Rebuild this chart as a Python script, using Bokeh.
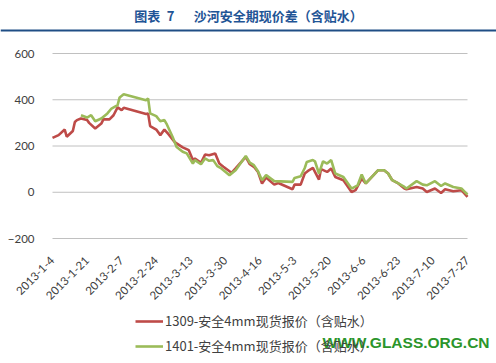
import pandas as pd
from bokeh.plotting import figure
from bokeh.models import (Range1d, FixedTicker, Legend, LegendItem, Label, Span)
from bokeh.embed import file_html
from bokeh.resources import INLINE
import math

title_text = "图表\u20027\u3000\u2002沙河安全期现价差（含贴水）"
series_names = ["1309-安全4mm现货报价（含贴水）", "1401-安全4mm现货报价（含贴水）"]
watermark = "WWW.GLASS.ORG.CN"

start_date = "2013-01-04"
tick_labels = ["2013-1-4", "2013-1-21", "2013-2-7", "2013-2-24", "2013-3-13",
               "2013-3-30", "2013-4-16", "2013-5-3", "2013-5-20", "2013-6-6",
               "2013-6-23", "2013-7-10", "2013-7-27"]
y_ticks = [-200, 0, 200, 400, 600]

red_dates = ["2013-01-04", "2013-01-07", "2013-01-10", "2013-01-11", "2013-01-14",
             "2013-01-15", "2013-01-16", "2013-01-18", "2013-01-21", "2013-01-22",
             "2013-01-25", "2013-01-28", "2013-01-29", "2013-02-01", "2013-02-03",
             "2013-02-05", "2013-02-07", "2013-02-08", "2013-02-19", "2013-02-20",
             "2013-02-21", "2013-02-24", "2013-02-26", "2013-02-28", "2013-03-02",
             "2013-03-05", "2013-03-06", "2013-03-09", "2013-03-12", "2013-03-14",
             "2013-03-15", "2013-03-18", "2013-03-20", "2013-03-22", "2013-03-25",
             "2013-03-27", "2013-03-29", "2013-04-02", "2013-04-04", "2013-04-09",
             "2013-04-11", "2013-04-13", "2013-04-15", "2013-04-17", "2013-04-19",
             "2013-04-23", "2013-04-25", "2013-05-02", "2013-05-03", "2013-05-06",
             "2013-05-08", "2013-05-10", "2013-05-12", "2013-05-15", "2013-05-16",
             "2013-05-19", "2013-05-21", "2013-05-23", "2013-05-27", "2013-05-31",
             "2013-06-02", "2013-06-05", "2013-06-07", "2013-06-13", "2013-06-16",
             "2013-06-18", "2013-06-20", "2013-06-23", "2013-06-26", "2013-06-27",
             "2013-07-02", "2013-07-05", "2013-07-07", "2013-07-11", "2013-07-14",
             "2013-07-16", "2013-07-20", "2013-07-24", "2013-07-27"]
red_values = [235, 247, 271, 240, 265,
              304, 312, 319, 312, 300,
              276, 297, 315, 315, 333,
              367, 355, 365, 338, 341,
              286, 271, 247, 271, 251,
              218, 211, 194, 182, 139,
              146, 127, 163, 160, 168,
              124, 110, 84, 103, 153,
              121, 110, 88, 38, 64,
              33, 40, 13, 33, 33,
              81, 95, 105, 55, 100,
              88, 103, 66, 52, 1,
              9, 59, 38, 95, 95,
              81, 52, 38, 16, 13,
              23, 16, 1, 16, -3,
              13, 4, 9, -20]

green_dates = ["2013-01-18", "2013-01-21", "2013-01-23", "2013-01-25", "2013-01-28",
               "2013-01-31", "2013-02-02", "2013-02-05", "2013-02-06", "2013-02-08",
               "2013-02-19", "2013-02-20", "2013-02-21", "2013-02-24", "2013-02-26",
               "2013-02-28", "2013-03-01", "2013-03-04", "2013-03-06", "2013-03-09",
               "2013-03-11", "2013-03-14", "2013-03-15", "2013-03-18", "2013-03-20",
               "2013-03-22", "2013-03-24", "2013-03-26", "2013-03-28", "2013-04-01",
               "2013-04-04", "2013-04-09", "2013-04-11", "2013-04-13", "2013-04-15",
               "2013-04-17", "2013-04-19", "2013-04-23", "2013-05-02", "2013-05-03",
               "2013-05-06", "2013-05-08", "2013-05-09", "2013-05-12", "2013-05-13",
               "2013-05-15", "2013-05-17", "2013-05-19", "2013-05-21", "2013-05-23",
               "2013-05-27", "2013-05-31", "2013-06-03", "2013-06-05", "2013-06-07",
               "2013-06-13", "2013-06-16", "2013-06-18", "2013-06-20", "2013-06-23",
               "2013-06-26", "2013-06-27", "2013-07-02", "2013-07-05", "2013-07-07",
               "2013-07-11", "2013-07-14", "2013-07-16", "2013-07-20", "2013-07-24",
               "2013-07-27"]
green_values = [333, 323, 333, 307, 319,
                341, 362, 377, 410, 424,
                398, 406, 341, 329, 307,
                312, 297, 240, 196, 175,
                168, 124, 139, 121, 146,
                136, 139, 113, 103, 74,
                95, 157, 128, 117, 91,
                52, 74, 48, 45, 62,
                69, 105, 131, 139, 134,
                81, 134, 124, 139, 81,
                66, 16, 30, 77, 38,
                95, 95, 81, 52, 38,
                23, 16, 48, 33, 30,
                48, 27, 38, 23, 16,
                -10]

t0 = pd.Timestamp(start_date)
def days(ds):
    return [(pd.Timestamp(d) - t0).days for d in ds]

red_x = days(red_dates)
green_x = days(green_dates)
tick_x = [(pd.to_datetime(t, format="%Y-%m-%d") - t0).days for t in tick_labels]

# canvas geometry (pixels)
W, H = 496, 363
PX_L, PX_R = 52, 467      # plot area left/right
PY_T, PY_B = 53, 238      # y of top/bottom gridlines
x0, x1 = tick_x[0], tick_x[-1]
ux = (x1 - x0) / (PX_R - PX_L)
ymin, ymax = min(y_ticks), max(y_ticks)
uy = (ymax - ymin) / (PY_B - PY_T)

p = figure(width=W, height=H, output_backend="svg", toolbar_location=None,
           x_range=Range1d(x0 - PX_L * ux, x1 + (W - PX_R) * ux),
           y_range=Range1d(ymin - (H - PY_B) * uy, ymax + PY_T * uy),
           min_border=0)
p.outline_line_color = None
p.background_fill_color = "white"
p.border_fill_color = "white"
p.xgrid.grid_line_color = None
p.ygrid.grid_line_color = None

# horizontal gridlines limited to the plot area
p.segment(x0=[x0] * len(y_ticks), x1=[x1] * len(y_ticks), y0=y_ticks, y1=y_ticks,
          line_color="#C0C0C0", line_width=1)

p.yaxis.ticker = FixedTicker(ticks=y_ticks)
p.yaxis.fixed_location = x0
p.xaxis.ticker = FixedTicker(ticks=tick_x)
p.xaxis.fixed_location = ymin
p.xaxis.major_label_overrides = {tx: lab for tx, lab in zip(tick_x, tick_labels)}
p.xaxis.major_label_orientation = math.pi / 4

for ax in (p.xaxis[0], p.yaxis[0]):
    ax.axis_line_color = None
    ax.major_tick_line_color = None
    ax.minor_tick_line_color = None
    ax.major_label_text_font = "Lato"
    ax.major_label_text_font_size = "11.5px"
    ax.major_label_text_color = "#404040"
p.yaxis.major_label_standoff = 12
p.xaxis.major_label_standoff = 14

r1 = p.line(red_x, red_values, line_color="#BE4B48", line_width=2.6)
r2 = p.line(green_x, green_values, line_color="#9BBB59", line_width=2.6)

# title and rule under it
p.add_layout(Label(x=248, y=H - 15, x_units="screen", y_units="screen", text=title_text,
                   text_font="Noto Sans CJK SC", text_font_style="bold", text_font_size="13px",
                   text_color="#1F5596", text_align="center", text_baseline="middle"))
p.add_layout(Span(location=H - 30, location_units="screen", dimension="width",
                  line_color="#1F4E85", line_width=2))

legend = Legend(items=[LegendItem(label=series_names[0], renderers=[r1]),
                       LegendItem(label=series_names[1], renderers=[r2])],
                location=(135, 8), orientation="vertical",
                glyph_width=28, glyph_height=18, label_height=18, label_standoff=2,
                spacing=6, padding=0, margin=0,
                border_line_color=None, background_fill_alpha=0,
                label_text_font="Noto Sans CJK SC", label_text_font_size="13px",
                label_text_color="#404040")
p.add_layout(legend, "center")

p.add_layout(Label(x=322, y=21, x_units="screen", y_units="screen", text=watermark,
                   text_font="Liberation Sans", text_font_style="bold", text_font_size="15.5px",
                   text_color="#2B952B", text_baseline="middle", text_align="left"))

open("out.html", "w").write(file_html(p, INLINE))
